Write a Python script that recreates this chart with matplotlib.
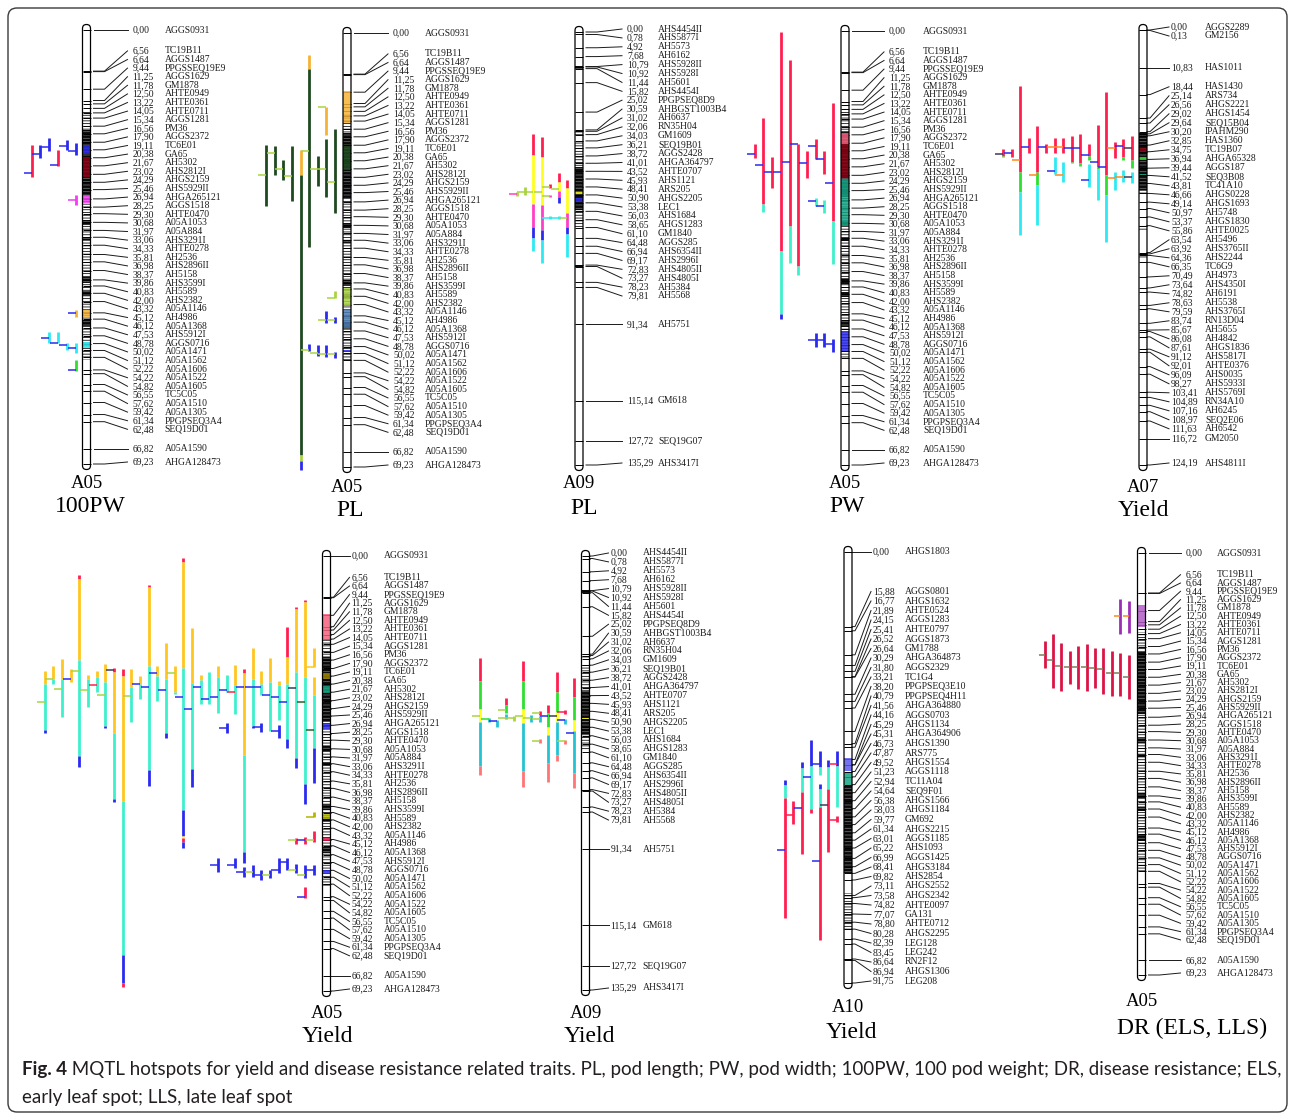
import numpy as np
import matplotlib
matplotlib.use('Agg')
import matplotlib.pyplot as plt
from matplotlib.patches import FancyBboxPatch, Rectangle

plt.rcParams['hatch.linewidth'] = 0.6

# ============================ DATA ============================
A05_POS = [0.00, 6.56, 6.64, 9.44, 11.25, 11.78, 12.50, 13.22, 14.05, 15.34, 16.56, 17.90,
           19.11, 20.38, 21.67, 23.02, 24.29, 25.46, 26.94, 28.25, 29.30, 30.68, 31.97,
           33.06, 34.33, 35.81, 36.98, 38.37, 39.86, 40.83, 42.00, 43.32, 45.12, 46.12,
           47.53, 48.78, 50.02, 51.12, 52.22, 54.22, 54.82, 56.55, 57.62, 59.42, 61.34,
           62.48, 66.82, 69.23]
A05_NAMES = ['AGGS0931', 'TC19B11', 'AGGS1487', 'PPGSSEQ19E9', 'AGGS1629', 'GM1878',
             'AHTE0949', 'AHTE0361', 'AHTE0711', 'AGGS1281', 'PM36', 'AGGS2372', 'TC6E01',
             'GA65', 'AH5302', 'AHS2812I', 'AHGS2159', 'AHS5929II', 'AHGA265121', 'AGGS1518',
             'AHTE0470', 'A05A1053', 'A05A884', 'AHS3291I', 'AHTE0278', 'AH2536', 'AHS2896II',
             'AH5158', 'AHS3599I', 'AH5589', 'AHS2382', 'A05A1146', 'AH4986', 'A05A1368',
             'AHS5912I', 'AGGS0716', 'A05A1471', 'A05A1562', 'A05A1606', 'A05A1522',
             'A05A1605', 'TC5C05', 'A05A1510', 'A05A1305', 'PPGPSEQ3A4', 'SEQ19D01',
             'A05A1590', 'AHGA128473']

A09_POS = [0.00, 0.78, 4.92, 7.68, 10.79, 10.92, 11.44, 15.82, 25.02, 30.59, 31.02, 32.06,
           34.03, 36.21, 38.72, 41.01, 43.52, 45.93, 48.41, 50.90, 53.38, 56.03, 58.65,
           61.10, 64.48, 66.94, 69.17, 72.83, 73.27, 78.23, 79.81, 91.34, 115.14, 127.72,
           135.29]
A09_NAMES = ['AHS4454II', 'AHS5877I', 'AH5573', 'AH6162', 'AHS5928II', 'AHS5928I', 'AH5601',
             'AHS4454I', 'PPGPSEQ8D9', 'AHBGST1003B4', 'AH6637', 'RN35H04', 'GM1609',
             'SEQ19B01', 'AGGS2428', 'AHGA364797', 'AHTE0707', 'AHS1121', 'ARS205',
             'AHGS2205', 'LEC1', 'AHS1684', 'AHGS1283', 'GM1840', 'AGGS285', 'AHS6354II',
             'AHS2996I', 'AHS4805II', 'AHS4805I', 'AH5384', 'AH5568', 'AH5751', 'GM618',
             'SEQ19G07', 'AHS3417I']

A07_POS = [0.00, 0.13, 10.83, 18.44, 25.14, 26.56, 29.02, 29.64, 30.20, 32.85, 34.75, 36.94,
           39.44, 41.52, 43.81, 46.66, 49.14, 50.97, 53.37, 55.86, 63.54, 63.92, 64.36,
           66.35, 70.49, 73.64, 74.82, 78.63, 79.59, 83.74, 85.67, 86.08, 87.61, 91.12,
           92.01, 96.09, 98.27, 103.41, 104.89, 107.16, 108.97, 111.63, 116.72, 124.19]
A07_NAMES = ['AGGS2289', 'GM2156', 'HAS1011', 'HAS1430', 'ARS734', 'AHGS2221', 'AHGS1454',
             'SEQ15B04', 'IPAHM290', 'HAS1360', 'TC19B07', 'AHGA65328', 'AGGS187', 'SEQ3B08',
             'TC41A10', 'AHGS0228', 'AHGS1693', 'AH5748', 'AHGS1830', 'AHTE0025', 'AH5496',
             'AHS3765II', 'AHS2244', 'TC6G9', 'AH4973', 'AHS4350I', 'AH6191', 'AH5538',
             'AHS3765I', 'RN13D04', 'AH5655', 'AH4842', 'AHGS1836', 'AHS5817I', 'AHTE0376',
             'AHS0035', 'AHS5933I', 'AHS5769I', 'RN34A10', 'AH6245', 'SEQ2E06', 'AH6542',
             'GM2050', 'AHS4811I']

A10_POS = [0.00, 15.88, 16.77, 21.89, 24.15, 25.41, 26.52, 26.64, 30.29, 31.80, 33.21,
           38.20, 40.79, 41.56, 44.16, 45.29, 45.31, 46.73, 47.87, 49.52, 51.23, 52.94,
           54.64, 56.38, 58.03, 59.77, 61.34, 63.01, 65.22, 66.99, 68.41, 69.82, 73.11,
           73.58, 74.82, 77.07, 78.80, 80.28, 82.39, 83.45, 86.64, 86.94, 91.75]
A10_NAMES = ['AHGS1803', 'AGGS0801', 'AHGS1632', 'AHTE0524', 'AGGS1283', 'AHTE0797',
             'AGGS1873', 'GM1788', 'AHGA364873', 'AGGS2329', 'TC1G4', 'PPGPSEQ3E10',
             'PPGPSEQ4H11', 'AHGA364880', 'AGGS0703', 'AHGS1134', 'AHGA364906', 'AHGS1390',
             'ARS775', 'AHGS1554', 'AGGS1118', 'TC11A04', 'SEQ9F01', 'AHGS1566', 'AHGS1184',
             'GM692', 'AHGS2215', 'AGGS1185', 'AHS1093', 'AGGS1425', 'AHGS3184', 'AHS2854',
             'AHGS2552', 'AHGS2342', 'AHTE0097', 'GA131', 'AHTE0712', 'AHGS2295', 'LEG128',
             'LEG242', 'RN2F12', 'AHGS1306', 'LEG208']

# marker-dense stretches of each linkage group (cM start, cM end, 'k' dense / 's' striped)
A05_DENSE = [(13.0, 16.0, 's'), (16.0, 26.4, 'k'), (26.4, 52.4, 's'), (30.3, 31.1, 'k'),
             (33.0, 33.5, 'k'), (39.4, 40.4, 'k'), (41.6, 42.4, 'k'), (46.3, 47.2, 'k')]
A09_DENSE = [(10.7, 11.5, 'k'), (30.5, 32.2, 's'), (34.0, 42.2, 's'), (42.2, 55.6, 'k'),
             (55.6, 60.9, 's'), (72.8, 73.3, 'k')]
A07_DENSE = [(29.4, 45.7, 'k'), (45.7, 47.2, 's'), (55.6, 57.0, 's'), (63.6, 65.2, 's')]
A10_DENSE = [(49.9, 68.4, 'k'), (72.6, 80.4, 's'), (86.5, 87.1, 's')]

CHROMS = {'A05': (A05_POS, A05_NAMES, A05_DENSE),
          'A09': (A09_POS, A09_NAMES, A09_DENSE),
          'A07': (A07_POS, A07_NAMES, A07_DENSE),
          'A10': (A10_POS, A10_NAMES, A10_DENSE)}

# MQTL hotspot bands on each chromosome: (start cM, end cM, colour code)
BANDS_100PW = [(18.3, 19.8, 'b'), (20.3, 23.4, 'R'), (26.3, 27.6, 'm'), (44.7, 45.8, 'o'),
               (49.8, 50.7, 'c'), (52.5, 52.7, 'G')]
BANDS_PL05 = [(9.3, 14.4, 'o'), (18.0, 21.8, 'd'), (40.7, 43.5, 'y'), (44.2, 47.0, 'e'),
              (50.6, 50.9, 'b')]
BANDS_PL09 = [(48.3, 48.6, 'R'), (50.1, 50.5, 'Y'), (51.9, 53.1, 'b')]
BANDS_PW = [(16.3, 18.0, 'P'), (18.0, 23.4, 'R'), (23.6, 31.1, 'T'), (47.8, 51.0, 'b')]
BANDS_Y07 = [(33.7, 34.9, 'R'), (36.3, 37.1, 'G'), (41.0, 41.4, 'T')]
BANDS_Y05 = [(9.2, 13.4, 'P'), (18.7, 19.5, 'v'), (20.7, 21.8, 'T'), (26.8, 27.6, 'b'),
             (41.0, 41.8, 'h'), (44.9, 45.4, 'i'), (50.0, 50.4, 'b'), (52.3, 52.5, 'r')]
BANDS_Y09 = [(48.3, 48.7, 'R'), (50.4, 50.9, 'Y'), (51.4, 51.9, 'T')]
BANDS_Y10 = [(43.9, 46.7, 'B'), (47.1, 49.6, 'T')]
BANDS_DR = [(8.5, 12.2, 'q'), (18.4, 18.6, 'R')]

# QTL confidence intervals, grouped in lanes (lane 0 is next to the chromosome)
# each QTL: (segment limits in cM, segment colour codes, peak cM, peak colour code)
QTL_100PW = [
    [([18.0, 19.9], 'b', 19.3, 'b'), ([26.3, 27.9], 'm', 27.1, 'm'), ([44.7, 45.8], 'o', 45.1, 'b'),
     ([49.9, 51.5], 'c', 50.7, 'b'), ([52.6, 54.4], 'G', 54.2, 'b')],
    [([17.5, 19.1], 'b', 18.5, 'b'), ([49.9, 51.0], 'c', 50.2, 'b')],
    [([19.1, 21.7], 'r', 21.5, 'b'), ([48.2, 49.9], 'c', 49.9, 'b')],
    [([17.2, 19.3], 'b', 18.7, 'b'), ([48.2, 49.9], 'c', 49.1, 'b')],
    [([18.3, 20.4], 'b', 19.8, 'b')],
    [([18.3, 23.4], 'r', 22.8, 'b')],
]
QTL_PL05 = [
    [([15.3, 28.7], 'd', 23.8, 'y'), ([41.1, 42.3], 'y', 42.3, 'y'), ([45.3, 46.3], 'b', 45.8, 'y'),
     ([50.9, 51.8], 'b', 51.2, 'y')],
    [([11.8, 16.3], 'o', 11.8, 'y'), ([16.9, 26.2], 'd', 21.7, 'y'), ([44.3, 46.3], 'b', 45.8, 'y'),
     ([49.8, 51.7], 'b', 51.2, 'y')],
    [([19.6, 24.4], 'd', 21.7, 'y'), ([49.8, 51.5], 'b', 51.0, 'y')],
    [([3.5, 5.7, 34.1], 'od', 18.8, 'y'), ([49.6, 50.7], 'b', 50.6, 'y')],
    [([18.7, 22.6, 67.3, 68.3, 69.7], 'odyb', None, None)],
    [([18.0, 26.8], 'd', 22.8, 'y')],
    [([20.3, 23.4], 'd', 21.7, 'y')],
    [([18.0, 22.6], 'd', 19.1, 'y')],
    [([17.9, 27.6], 'd', 22.6, 'y')],
]
QTL_PL09 = [
    [([46.3, 48.8, 56.6, 60.9, 63.1, 70.3], 'rYMbc', 58.1, 'y')],
    [([44.1, 46.9, 49.7, 51.6, 53.4], 'rYMb', 49.0, 'y'), ([57.6, 58.4], 'c', 58.1, 'c')],
    [([47.6, 48.8], 'r', 48.5, 'y'), ([50.8, 51.6], 'M', 51.3, 'y'), ([57.6, 58.4], 'c', 58.1, 'c')],
    [([32.8, 39.1, 54.1, 61.9, 65.0, 72.2], 'rYMbc', 50.0, 'y')],
    [([31.9, 38.4, 53.8, 60.9, 64.4, 68.4], 'rYMbc', 50.0, 'y')],
    [([48.4, 51.0], 'y', 50.0, 'y')],
    [([50.0, 51.3], 'y', 50.6, 'M')],
]
QTL_PW = [
    [([11.5, 30.3, 37.2], 'rt', 24.2, 'b'), ([49.1, 51.2], 'b', 49.9, 'b')],
    [([19.1, 22.8], 'r', 20.4, 'b'), ([27.0, 29.0], 't', 27.9, 'b'), ([48.2, 50.4], 'b', 49.3, 'b')],
    [([17.2, 20.4], 'r', 18.3, 'b'), ([26.6, 27.9], 't', 27.1, 'b'), ([48.2, 50.4], 'b', 49.3, 'b')],
    [([19.1, 23.4], 'r', 21.1, 'b')],
    [([18.0, 37.5, 38.9], 'rt', 18.0, 'b')],
    [([4.6, 31.1, 37.0], 'rt', 20.9, 'b')],
    [([0.2, 35.1, 45.1, 45.9], 'rtb', 22.5, 'b')],
    [([20.1, 25.0], 'r', 22.5, 'b')],
    [([13.9, 27.6, 28.9], 'rt', 21.4, 'b')],
    [([18.0, 20.3], 'r', 19.6, 'b')],
]
QTL_Y07 = [
    [([30.3, 37.1, 39.4], 'rG', 33.7, 'x'), ([40.6, 43.7], 'c', 42.0, 'x')],
    [([31.1, 36.3, 37.1], 'rG', 33.1, 'b'), ([40.0, 43.4], 'c', 42.0, 'O')],
    [([32.0, 36.6], 'r', 33.7, 'O'), ([40.6, 45.7], 'c', 42.3, 'O')],
    [([17.7, 41.4, 47.1, 60.6], 'rGc', 39.1, 'b')],
    [([27.1, 39.1, 39.6, 48.6], 'rGc', 37.7, 'b')],
    [([32.6, 36.0, 37.1], 'rG', 35.7, 'b'), ([38.3, 44.9], 'c', 42.9, 'b')],
    [([29.7, 38.0, 38.7], 'rG', 33.7, 'b')],
    [([30.3, 37.7, 38.1], 'rG', 33.7, 'b')],
    [([30.9, 35.1], 'r', 33.4, 'O'), ([37.7, 43.4], 'c', 41.5, 'O')],
    [([30.9, 35.1], 'r', 33.4, 'O'), ([36.3, 41.1], 'c', 40.3, 'b')],
    [([32.6, 35.1], 'r', 33.4, 'b')],
    [([27.4, 40.6, 44.3, 55.7], 'rGc', 41.4, 'O')],
    [([30.9, 35.1], 'r', 33.4, 'b')],
    [([16.0, 40.6, 46.3, 58.6], 'rGc', 37.1, 'O')],
    [([34.0, 36.3], 'r', 35.2, 'b')],
    [([34.0, 35.9, 36.3], 'rG', 35.4, 'x')],
]
QTL_Y05 = [
    [([14.6, 17.7], 'g', 17.7, 'g'), ([19.2, 22.1, 30.6, 36.1], 'gtb', 27.7, 'D'),
     ([40.7, 41.6], 'h', 41.5, 'h'), ([43.7, 45.5], 'r', 45.2, 'y'), ([49.1, 50.8], 'b', 50.0, 'b')],
    [([7.0, 7.3, 19.2, 36.3, 39.5], 'rgtb', 23.3, 'D'), ([44.7, 45.8], 'r', 45.2, 'b'),
     ([49.2, 51.3], 'b', 50.7, 'y'), ([52.7, 54.4], 'r', 54.2, 'b')],
    [([8.1, 8.4, 18.4, 32.1, 33.8], 'rgtb', 21.0, 'x'), ([44.9, 45.8], 'r', 45.2, 'y'),
     ([49.0, 50.4], 'b', 50.0, 'y')],
    [([11.3, 16.0, 20.4, 29.2, 30.5], 'rgtb', 23.3, 'b'), ([48.0, 50.0], 'b', 48.7, 'b')],
    [([19.9, 20.5, 26.1], 'gt', 22.4, 'b'), ([26.9, 28.9], 'b', 27.9, 'b'), ([48.0, 50.4], 'b', 49.9, 'b')],
    [([16.2, 20.1, 27.8], 'gt', 22.1, 'b'), ([50.0, 51.3], 'b', 50.7, 'y')],
    [([18.3, 20.4, 22.2], 'gt', 20.9, 'b'), ([26.5, 28.0], 'b', 27.2, 'b'), ([50.0, 51.6], 'b', 50.7, 'b')],
    [([14.6, 19.6, 27.1, 27.3], 'gtb', 20.9, 'b'), ([49.2, 51.1], 'b', 50.3, 'y')],
    [([18.0, 18.6, 31.7, 47.1, 48.9], 'rgtb', 20.9, 'b'), ([49.5, 51.1], 'b', 50.3, 'b')],
    [([17.4, 20.6, 25.2], 'gt', 21.6, 'r'), ([48.1, 49.7], 'b', 49.2, 'b')],
    [([18.9, 21.6], 't', 21.4, 'b'), ([26.5, 28.1], 'b', 27.3, 'b')],
    [([17.5, 19.3, 25.0], 'gt', 22.4, 'b'), ([48.0, 50.3], 'b', 49.2, 'b')],
    [([18.4, 23.5], 't', 22.8, 'b')],
    [([18.9, 19.8, 23.5], 'gt', 20.9, 'b')],
    [([11.4, 20.2, 33.9, 36.8], 'gtb', 24.3, 'b')],
    [([0.3, 0.9, 17.9, 40.5, 44.6, 44.9, 45.5, 46.4], 'rgtbYrb', 22.4, 'b')],
    [([17.5, 21.6, 22.0], 'gt', 18.6, 'y')],
    [([13.9, 19.6, 28.2, 28.9], 'gtb', 21.3, 'b')],
    [([17.5, 19.1, 23.0], 'gt', 18.6, 'b')],
    [([4.6, 5.0, 17.5, 34.1, 36.6], 'rgtb', 20.8, 'b')],
    [([19.1, 20.4, 22.8], 'gt', 20.4, 'b')],
    [([18.0, 20.8, 26.4], 'gt', 22.3, 'y')],
    [([18.0, 19.1, 39.0, 63.5, 68.0, 68.6], 'rgtbr', None, None)],
    [([17.9, 18.4, 28.1, 38.6, 39.2], 'rgtb', 18.1, 'x')],
    [([17.2, 20.0, 27.1, 27.3], 'gtb', 22.2, 'y')],
    [([18.3, 19.3, 21.6], 'gt', 20.5, 'r')],
    [([18.9, 19.6, 24.0], 'gt', 21.3, 'y')],
    [([3.0, 3.6, 16.5, 31.9, 33.6], 'rgtb', 18.3, 'y')],
    [([18.0, 20.0], 'g', 19.5, 'b')],
    [([16.4, 19.6, 25.7], 'gt', 21.1, 'y')],
    [([17.5, 19.5, 20.3], 'gt', 19.5, 'y')],
    [([18.3, 20.4, 27.7, 28.2], 'gtb', 23.3, 'y')],
]
QTL_Y09 = [
    [([38.1, 43.8, 51.1, 54.7, 67.7, 72.4], 'rGYks', 55.2, 'b')],
    [([48.0, 49.2], 'r', 48.5, 'r'), ([50.8, 52.3], 'k', 51.2, 'b'), ([57.3, 58.6], 's', 57.8, 'y')],
    [([36.3, 42.3, 48.5, 51.6, 62.0, 63.8], 'rGYks', 50.0, 'x')],
    [([46.4, 49.0, 53.2, 55.8, 64.6, 70.3], 'rGYks', 50.0, 'b')],
    [([48.2, 49.5], 'r', 48.8, 'y'), ([50.0, 51.8], 'k', 50.8, 'y'), ([57.1, 58.4], 's', 57.8, 'y')],
    [([49.5, 51.8], 'k', 50.6, 'y')],
    [([32.7, 39.1, 47.7, 52.1, 67.0, 71.9], 'rGYks', 50.0, 'y')],
    [([50.0, 51.3], 'y', 50.6, 'y')],
    [([44.3, 46.6, 48.8], 'rG', 48.0, 'y'), ([49.3, 50.8], 'k', 50.6, 'y')],
    [([51.1, 53.4], 'k', 51.3, 'b')],
    [([50.6, 51.9], 'k', 50.8, 'G')],
    [([31.9, 39.1, 47.7, 51.6, 65.4, 68.4], 'rGYks', 50.0, 'y')],
]
QTL_Y10 = [
    [([42.3, 45.5, 54.2], 'bt', 45.1, 'r'), ([56.3, 57.4], 'r', 57.0, 'r')],
    [([44.3, 45.7, 50.5, 63.8], 'btr', 53.8, 'x')],
    [([42.3, 45.7, 47.5], 'bt', 45.1, 'b'), ([49.4, 50.5, 54.2, 82.5], 'btr', 65.7, 'b')],
    [([40.0, 45.5, 54.7, 55.5], 'btr', 47.8, 'b')],
    [([44.6, 46.0, 51.1, 64.3], 'btr', 54.5, 'b')],
    [([53.1, 57.9], 'r', 55.9, 'r')],
    [([48.5, 49.6, 52.4, 77.9], 'btr', 63.4, 'b')],
]
QTL_DR = [
    [([7.9, 13.2], 'p', 10.4, 'O'), ([16.7, 24.0], 'i', 20.3, 'n')],
    [([7.6, 13.3], 'p', 10.4, 'O'), ([16.4, 23.5], 'i', 19.7, 'n')],
    [([16.1, 23.4], 'i', 19.7, 'n')],
    [([15.6, 23.2], 'i', 19.1, 'n')],
    [([15.6, 22.1], 'i', 18.9, 'n')],
    [([14.9, 22.6], 'i', 18.7, 'n')],
    [([15.2, 22.3], 'i', 18.7, 'n')],
    [([16.1, 21.5], 'i', 18.7, 'n')],
    [([14.8, 22.6], 'i', 18.6, 'n')],
    [([13.3, 22.1], 'i', 17.5, 'n')],
    [([14.5, 18.8], 'i', 16.7, 'n')],
]

PANELS = [
    ('A05', '100PW', BANDS_100PW, QTL_100PW),
    ('A05', 'PL', BANDS_PL05, QTL_PL05),
    ('A09', 'PL', BANDS_PL09, QTL_PL09),
    ('A05', 'PW', BANDS_PW, QTL_PW),
    ('A07', 'Yield', BANDS_Y07, QTL_Y07),
    ('A05', 'Yield', BANDS_Y05, QTL_Y05),
    ('A09', 'Yield', BANDS_Y09, QTL_Y09),
    ('A10', 'Yield', BANDS_Y10, QTL_Y10),
    ('A05', 'DR (ELS, LLS)', BANDS_DR, QTL_DR),
]

CAPTION_BOLD = 'Fig. 4'
CAPTION_L1 = (' MQTL hotspots for yield and disease resistance related traits. PL, pod length; '
              'PW, pod width; 100PW, 100 pod weight; DR, disease resistance; ELS,')
CAPTION_L2 = 'early leaf spot; LLS, late leaf spot'

# ============================ STYLE / LAYOUT ============================
PAL = {'r': '#FF1F4F', 'R': '#8C0014', 'b': '#2B2BEF', 'B': '#5A5AF0', 'c': '#2DE9F2',
       't': '#3CF0CC', 'T': '#14A585', 'o': '#F5B335', 'g': '#FFC61F', 'm': '#F23DF2',
       'G': '#2FDF2F', 'd': '#1E4A20', 'y': '#A8D444', 'Y': '#FFFF1E', 's': '#FF7474',
       'k': '#24C3D4', 'p': '#9A2EB5', 'q': '#B35BC6', 'P': '#F5607E', 'n': '#7D7D5E',
       'O': '#FF8A1E', 'v': '#9C8400', 'e': '#4B7DB3', 'x': '#3A3A5A', 'D': '#2E5E2E',
       'h': '#B5B500', 'i': '#DC1446', 'M': '#FF3EC8'}

LAYOUT = [
    dict(cx=86.5, y0=30, y1=464, st='A', gap=8.6, g0=7, sp=8.8, nx=46, mx=78, t1=483, t2=507, tx2=90),
    dict(cx=347, y0=33, y1=467, st='A', gap=8.6, g0=8, sp=8.6, nx=46, mx=78, t1=487, t2=510, tx2=350),
    dict(cx=579, y0=32, y1=465, st='A', gap=8.9, g0=8, sp=8.4, nx=48, mx=79, t1=483, t2=508, tx2=584),
    dict(cx=845, y0=31, y1=465, st='A', gap=8.6, g0=8, sp=8.7, nx=44, mx=78, t1=483, t2=507, tx2=847),
    dict(cx=1143, y0=30, y1=465, st='B', gap=9.0, g0=7, sp=8.6, nx=28, mx=62, t1=488, t2=510, tx2=1143),
    dict(cx=326.5, y0=556, y1=991, st='B', gap=8.6, g0=9, sp=8.67, nx=25, mx=57, t1=1013, t2=1037, tx2=327),
    dict(cx=585.5, y0=556, y1=990, st='B', gap=8.9, g0=8, sp=8.5, nx=25, mx=57, t1=1013, t2=1037, tx2=589),
    dict(cx=848, y0=552, y1=983, st='B', gap=9.5, g0=7, sp=8.75, nx=25, mx=57, t1=1008, t2=1033, tx2=851),
    dict(cx=1141.5, y0=553, y1=975, st='A', gap=8.3, g0=9, sp=8.4, nx=44, mx=75, t1=1002, t2=1028, tx2=1192),
]

SERIF = ['Liberation Serif', 'DejaVu Serif']
W, H = 1295, 1117
HW = 4.0  # chromosome half width (px)

fig = plt.figure(figsize=(W / 100, H / 100), dpi=100)
fig.patch.set_facecolor('white')
bg = fig.add_axes([0, 0, 1, 1])
bg.set_xlim(0, W)
bg.set_ylim(H, 0)
bg.axis('off')

bg.add_patch(FancyBboxPatch((8, 8), W - 16, H - 13, boxstyle='round,pad=0,rounding_size=9',
                            fc='none', ec='#3a3a3a', lw=1.0))


def pav(q):
    blocks = []
    for v in q:
        blocks.append([v, 1])
        while len(blocks) > 1 and blocks[-2][0] / blocks[-2][1] > blocks[-1][0] / blocks[-1][1]:
            s, c = blocks.pop()
            blocks[-1][0] += s
            blocks[-1][1] += c
    out = []
    for s, c in blocks:
        out += [s / c] * c
    return np.array(out)


def spread(p, gap, lo, hi):
    """label positions >= gap apart, as close as possible to p, inside [lo, hi]"""
    p = np.asarray(p, float)
    n = len(p)
    gap = min(gap, (hi - lo) / (n - 1))
    i = np.arange(n)
    z = pav(p - i * gap)
    z = np.clip(z, lo, hi - (n - 1) * gap)
    return z + i * gap


def draw_panel(lay, chrom, trait, bands, lanes):
    pos, names, dense = CHROMS[chrom]
    L = pos[-1]
    y0, y1 = lay['y0'], lay['y1']
    ax = fig.add_axes([0, 1 - y1 / H, 1, (y1 - y0) / H])
    ax.set_xlim(0, W)
    ax.set_ylim(L, 0)
    ax.axis('off')
    cpp = L / (y1 - y0)
    cx = lay['cx']

    for a, b, kind in dense:
        if kind == 's':
            ax.add_patch(Rectangle((cx - HW, a), 2 * HW, b - a, fc='white', ec='#111111',
                                   lw=0, hatch='------', clip_on=False, zorder=2))
        else:
            ax.add_patch(Rectangle((cx - HW, a), 2 * HW, b - a, fc='#0a0a0a', ec='#6a6a6a',
                                   lw=0, hatch='-----', clip_on=False, zorder=2))
    ax.hlines(pos, cx - HW, cx + HW, color='black', lw=0.7, zorder=3, clip_on=False)
    for a, b, c in bands:
        ax.add_patch(Rectangle((cx - HW, a), 2 * HW, b - a, fc=PAL[c], ec='none', alpha=0.85,
                               clip_on=False, zorder=4))
    pad = 5.5 * cpp
    ax.add_patch(FancyBboxPatch((cx - HW, -pad), 2 * HW, L + 2 * pad,
                                boxstyle='round,pad=0,rounding_size=%g' % HW,
                                mutation_aspect=cpp, fc='none', ec='black', lw=0.9,
                                clip_on=False, zorder=5))

    ly = spread(pos, lay['gap'] * cpp, -3 * cpp, L - 2 * cpp)
    R = cx + HW
    nx = cx + lay['nx']
    mx = cx + lay['mx']
    for p, l, nm in zip(pos, ly, names):
        if lay['st'] == 'A':
            xs, ys = [R + 3, R + 14, nx - 5], [p, p, l]
        else:
            xs, ys = [R, R + 3, nx - 2], [p, p, l]
        ax.plot(xs, ys, color='#1a1a1a', lw=0.7, clip_on=False, zorder=3)
        ax.text(nx, l, ('%.2f' % p).replace('.', ','), ha='left', va='center',
                fontsize=6.9, family=SERIF, color='#1a1a1a', clip_on=False)
        ax.text(mx, l, nm, ha='left', va='center', fontsize=6.9, family=SERIF,
                color='#1a1a1a', clip_on=False)

    x0 = cx - HW - lay['g0']
    tick = 6 if trait.startswith('DR') else 8
    for li, lane in enumerate(lanes):
        x = x0 - li * lay['sp']
        for brk, cols, pk, pc in lane:
            for a, b, c in zip(brk[:-1], brk[1:], cols):
                ax.plot([x, x], [a, b], color=PAL[c], lw=2.0, solid_capstyle='butt',
                        clip_on=False, zorder=6)
            if pk is not None:
                ax.plot([x - tick, x], [pk, pk], color=PAL[pc], lw=1.1,
                        solid_capstyle='butt', clip_on=False, zorder=7)

    bg.text(cx, lay['t1'], chrom, ha='center', va='center', fontsize=13.5, family=SERIF)
    bg.text(lay['tx2'], lay['t2'], trait, ha='center', va='center', fontsize=17, family=SERIF)


for lay, (chrom, trait, bands, lanes) in zip(LAYOUT, PANELS):
    draw_panel(lay, chrom, trait, bands, lanes)

# caption
CAP_FONT = ['Lato', 'DejaVu Sans']
fig.canvas.draw()
r = fig.canvas.get_renderer()
fs = 12.0
tb = bg.text(22, 1070, CAPTION_BOLD, fontsize=fs, fontweight='bold', family=CAP_FONT,
             color='#231F20', va='center', ha='left')
tr = bg.text(0, 1070, CAPTION_L1, fontsize=fs, family=CAP_FONT, color='#231F20',
             va='center', ha='left')
for _ in range(3):
    wb = tb.get_window_extent(r).width
    wr = tr.get_window_extent(r).width
    fs = fs * 1255.0 / (wb + wr)
    tb.set_fontsize(fs)
    tr.set_fontsize(fs)
wb = tb.get_window_extent(r).width
tr.set_x(22 + wb)
bg.text(22, 1097, CAPTION_L2, fontsize=fs, family=CAP_FONT, color='#231F20',
        va='center', ha='left')

fig.savefig('out.png', dpi=100, facecolor='white')
